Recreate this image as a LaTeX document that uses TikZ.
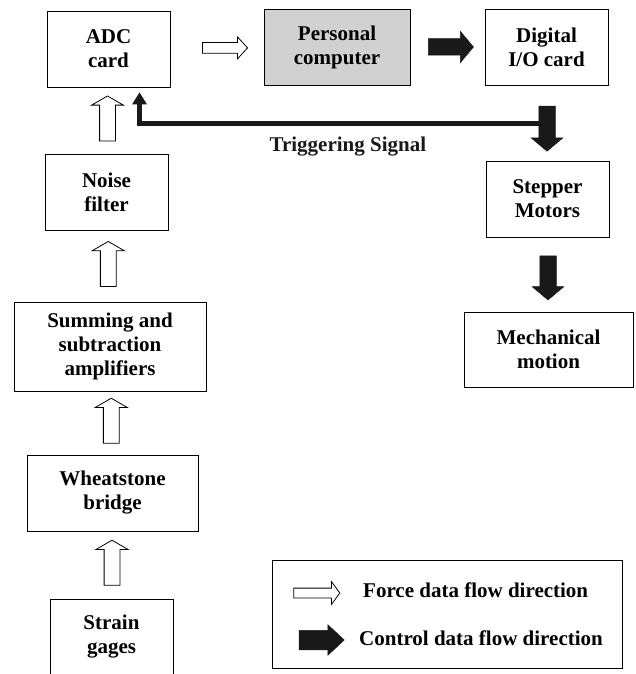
\documentclass[tikz,border=0pt]{standalone}
\usepackage{fontspec}
\setmainfont{Liberation Serif}
\usetikzlibrary{arrows.meta,shapes.arrows}
\tikzset{
  block/.style  = {draw, line width=0.9pt, align=center, inner sep=2pt,
                   font=\fontsize{21}{24}\selectfont\bfseries,
                   minimum width=123pt, minimum height=76pt},
  pcblock/.style= {block, fill=black!18, minimum width=146pt},
  force/.style  = {single arrow, draw, line width=0.8pt, fill=white,
                   inner xsep=0pt, inner ysep=7.5pt, minimum height=45pt,
                   single arrow head extend=8pt, single arrow tip angle=120,
                   single arrow head indent=0pt},
  forceh/.style = {force, inner ysep=5pt, single arrow head extend=5.5pt,
                   single arrow tip angle=95},
  ctrl/.style   = {single arrow, draw=black!90, fill=black!90, line width=0.5pt,
                   inner xsep=0pt, inner ysep=8pt, minimum height=45pt,
                   single arrow head extend=7.5pt, single arrow tip angle=100,
                   single arrow head indent=0pt},
  trig/.style   = {line width=5pt, black!90,
                   -{Triangle[length=12pt, width=15pt, line width=0pt]}},
  legbox/.style = {draw, line width=0.9pt, minimum width=350pt, minimum height=108pt},
  lbl/.style    = {font=\fontsize{21}{24}\selectfont\bfseries, inner sep=0pt}
}

\begin{document}
\begin{tikzpicture}[x=1pt, y=-1pt]
  \useasboundingbox (0,0) rectangle (635,674);

  % force chain, bottom to top
  \node[block] (adc) at (108.5,49) {ADC\\card};
  \node[block] (noise) at (106.5,192.5) {Noise\\filter};
  \node[block, minimum width=192pt, minimum height=89pt] (amp) at (110,346.5)
    {Summing and\\subtraction\\amplifiers};
  \node[block, minimum width=171pt] (bridge) at (112.5,493) {Wheatstone\\bridge};
  \node[block] (gages) at (111.5,637) {Strain\\gages};

  % control chain
  \node[pcblock] (pc) at (337,47) {Personal\\computer};
  \node[block] (dio) at (546.5,47) {Digital\\I/O card};
  \node[block] (motor) at (547.5,199) {Stepper\\Motors};
  \node[block, minimum width=169pt, minimum height=75pt] (motion) at (548.5,349.5)
    {Mechanical\\motion};

  \path (gages.north) -- node[force, rotate=90] {} (bridge.south);
  \path (bridge.north) -- node[force, rotate=90] {} (amp.south);
  \path (amp.north) -- node[force, rotate=90] {} (noise.south);
  \path (noise.north) -- node[force, rotate=90] {} (adc.south);
  \path (adc.east) -- node[pos=0.56, forceh] {} (pc.west);
  \path (pc.east) -- node[ctrl] {} (dio.west);

  % trigger back to the ADC
  \coordinate (trg) at ([yshift=-38pt]dio.south);
  \draw[trig, shorten >=5pt] (trg) -| ([xshift=31pt]adc.south)
    node[pos=0.244, below=10.8pt, lbl] {Triggering Signal};

  \path (dio.south) -- node[pos=0.53, ctrl, rotate=-90] {} (motor.north);
  \path (motor.south) -- node[ctrl, rotate=-90, minimum height=44pt] {} (motion.north);

  % legend
  \node[legbox] (legend) at (447,614) {};
  \node[force, inner ysep=4.5pt, minimum height=46pt, single arrow head extend=6.5pt,
        single arrow tip angle=108] (fkey) at (315,593) {};
  \node[lbl, anchor=base west] (ftext) at (363,597) {Force data flow direction};
  \node[ctrl, inner ysep=9.5pt, single arrow head extend=5.5pt,
        single arrow tip angle=86] (ckey) at (316.5,640) {};
  \node[lbl, anchor=base west] (ctext) at (359,645) {Control data flow direction};
\end{tikzpicture}
\end{document}
